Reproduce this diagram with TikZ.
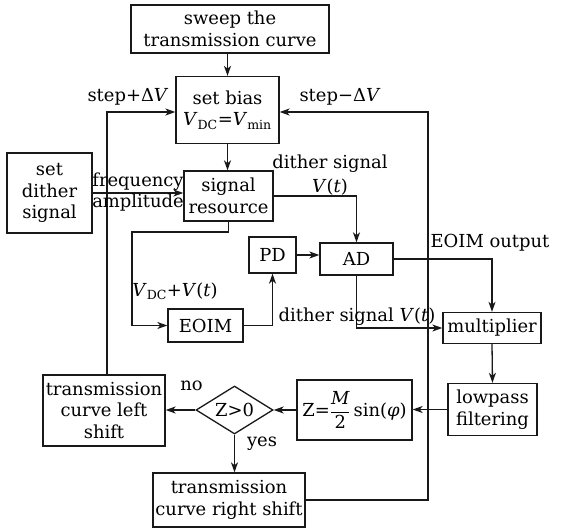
\documentclass[tikz,border=0pt]{standalone}
\usepackage{fontspec}
\setmainfont{DejaVu Serif}
\usetikzlibrary{arrows.meta,shapes.geometric}
\begin{document}
\begin{tikzpicture}[x=1bp,y=-1bp,
  every node/.style={font=\fontsize{18}{21.5}\selectfont, text=black},
  box/.style={draw=black!90, line width=1.3bp, inner sep=0pt, align=center},
  lbl/.style={inner sep=0pt, align=center},
  ln/.style={draw=black!90, line width=1.3bp},
  arr/.style={ln, -{Stealth[length=10bp,width=7bp,inset=2.8bp]}}]
\useasboundingbox[fill=white] (0,0) rectangle (576,530);

% boxes
\node[box, minimum width=198bp, minimum height=48bp] (sweep) at (230,29) {sweep the\\transmission curve};
\node[box, minimum width=103bp, minimum height=67bp] (bias) at (227.5,110) {set bias\\\textit{V}\textsubscript{DC}=\textit{V}\textsubscript{min}};
\node[box, minimum width=85bp, minimum height=80bp] (dither) at (49.5,193) {set\\dither\\signal};
\node[box, minimum width=89bp, minimum height=50bp] (sigres) at (228.5,196) {signal\\resource};
\node[box, minimum width=47bp, minimum height=36bp] (pd) at (272.5,255) {PD};
\node[box, minimum width=73bp, minimum height=32bp] (ad) at (356.5,259) {AD};
\node[box, minimum width=75bp, minimum height=33bp] (eoim) at (205.5,325.5) {EOIM};
\node[box, minimum width=98bp, minimum height=31bp] (mult) at (492,328) {multiplier};
\node[box, minimum width=89bp, minimum height=52bp] (low) at (492.5,409.5) {lowpass\\filtering};
\node[box, minimum width=115bp, minimum height=60bp] (zbox) at (354.5,410)
  {Z=$\displaystyle\frac{\mbox{\itshape M}}{\mbox{2}}$\,sin(\textit{φ})};
\node[draw=black!90, line width=1.3bp, diamond, aspect=1.6, inner sep=0pt,
  minimum width=77bp, minimum height=48bp] (dec) at (234.5,410) {Z>0};
\node[box, minimum width=122bp, minimum height=71bp] (lshift) at (104,410.5) {transmission\\curve left\\shift};
\node[box, minimum width=152bp, minimum height=54bp] (rshift) at (229,500) {transmission\\curve right shift};

% helper coordinates
\coordinate (c1) at (132,232);
\coordinate (rc) at (428,112);

% connectors
\draw[arr] (bias.north |- sweep.south) -- (bias.north);
\draw[arr] (bias.south) -- (bias.south |- sigres.north);
\draw[arr] (dither.east) -- (sigres.west |- dither.east);
\draw[arr] (sigres.east) -| (ad.north);
\draw[arr] (sigres.south) |- (c1) |- (eoim.west);
\draw[arr] (eoim.east) -| (pd.south);
\draw[arr] (pd.east) -- (ad.west |- pd.east);
\draw[arr] (ad.east) -| (mult.north);
\draw[arr] (ad.south) |- (mult.west);
\draw[arr] (mult.south) -- (low.north);
\draw[arr] (low.west) -- (zbox.east |- low.west);
\draw[arr] (zbox.west) -- (dec.east);
\draw[arr] (dec.west) -- (lshift.east |- dec.west);
\draw[arr] (dec.south) -- (dec.south |- rshift.north);
\draw[arr] (lshift.north -| 107,0) |- (bias.west |- rc);
\draw[arr] (rshift.east) -| (rc) -- (bias.east |- rc);

% labels
\node[lbl] (l1) at (128,97) {step+Δ\textit{V}};
\node[lbl] (l2) at (340,97) {step−Δ\textit{V}};
\node[lbl] (l3) at (138,182) {frequency};
\node[lbl] (l4) at (138,203) {amplitude};
\node[lbl] (l5) at (330,164) {dither signal};
\node[lbl] (l6) at (330,187) {\textit{V}(\textit{t})};
\node[lbl] (l7) at (490,243) {EOIM output};
\node[lbl] (l8) at (175,291) {\textit{V}\textsubscript{DC}+\textit{V}(\textit{t})};
\node[lbl] (l9) at (357,317) {dither signal \textit{V}(\textit{t})};
\node[lbl] (l10) at (191.5,386) {no};
\node[lbl] (l11) at (262,444) {yes};
\end{tikzpicture}
\end{document}
